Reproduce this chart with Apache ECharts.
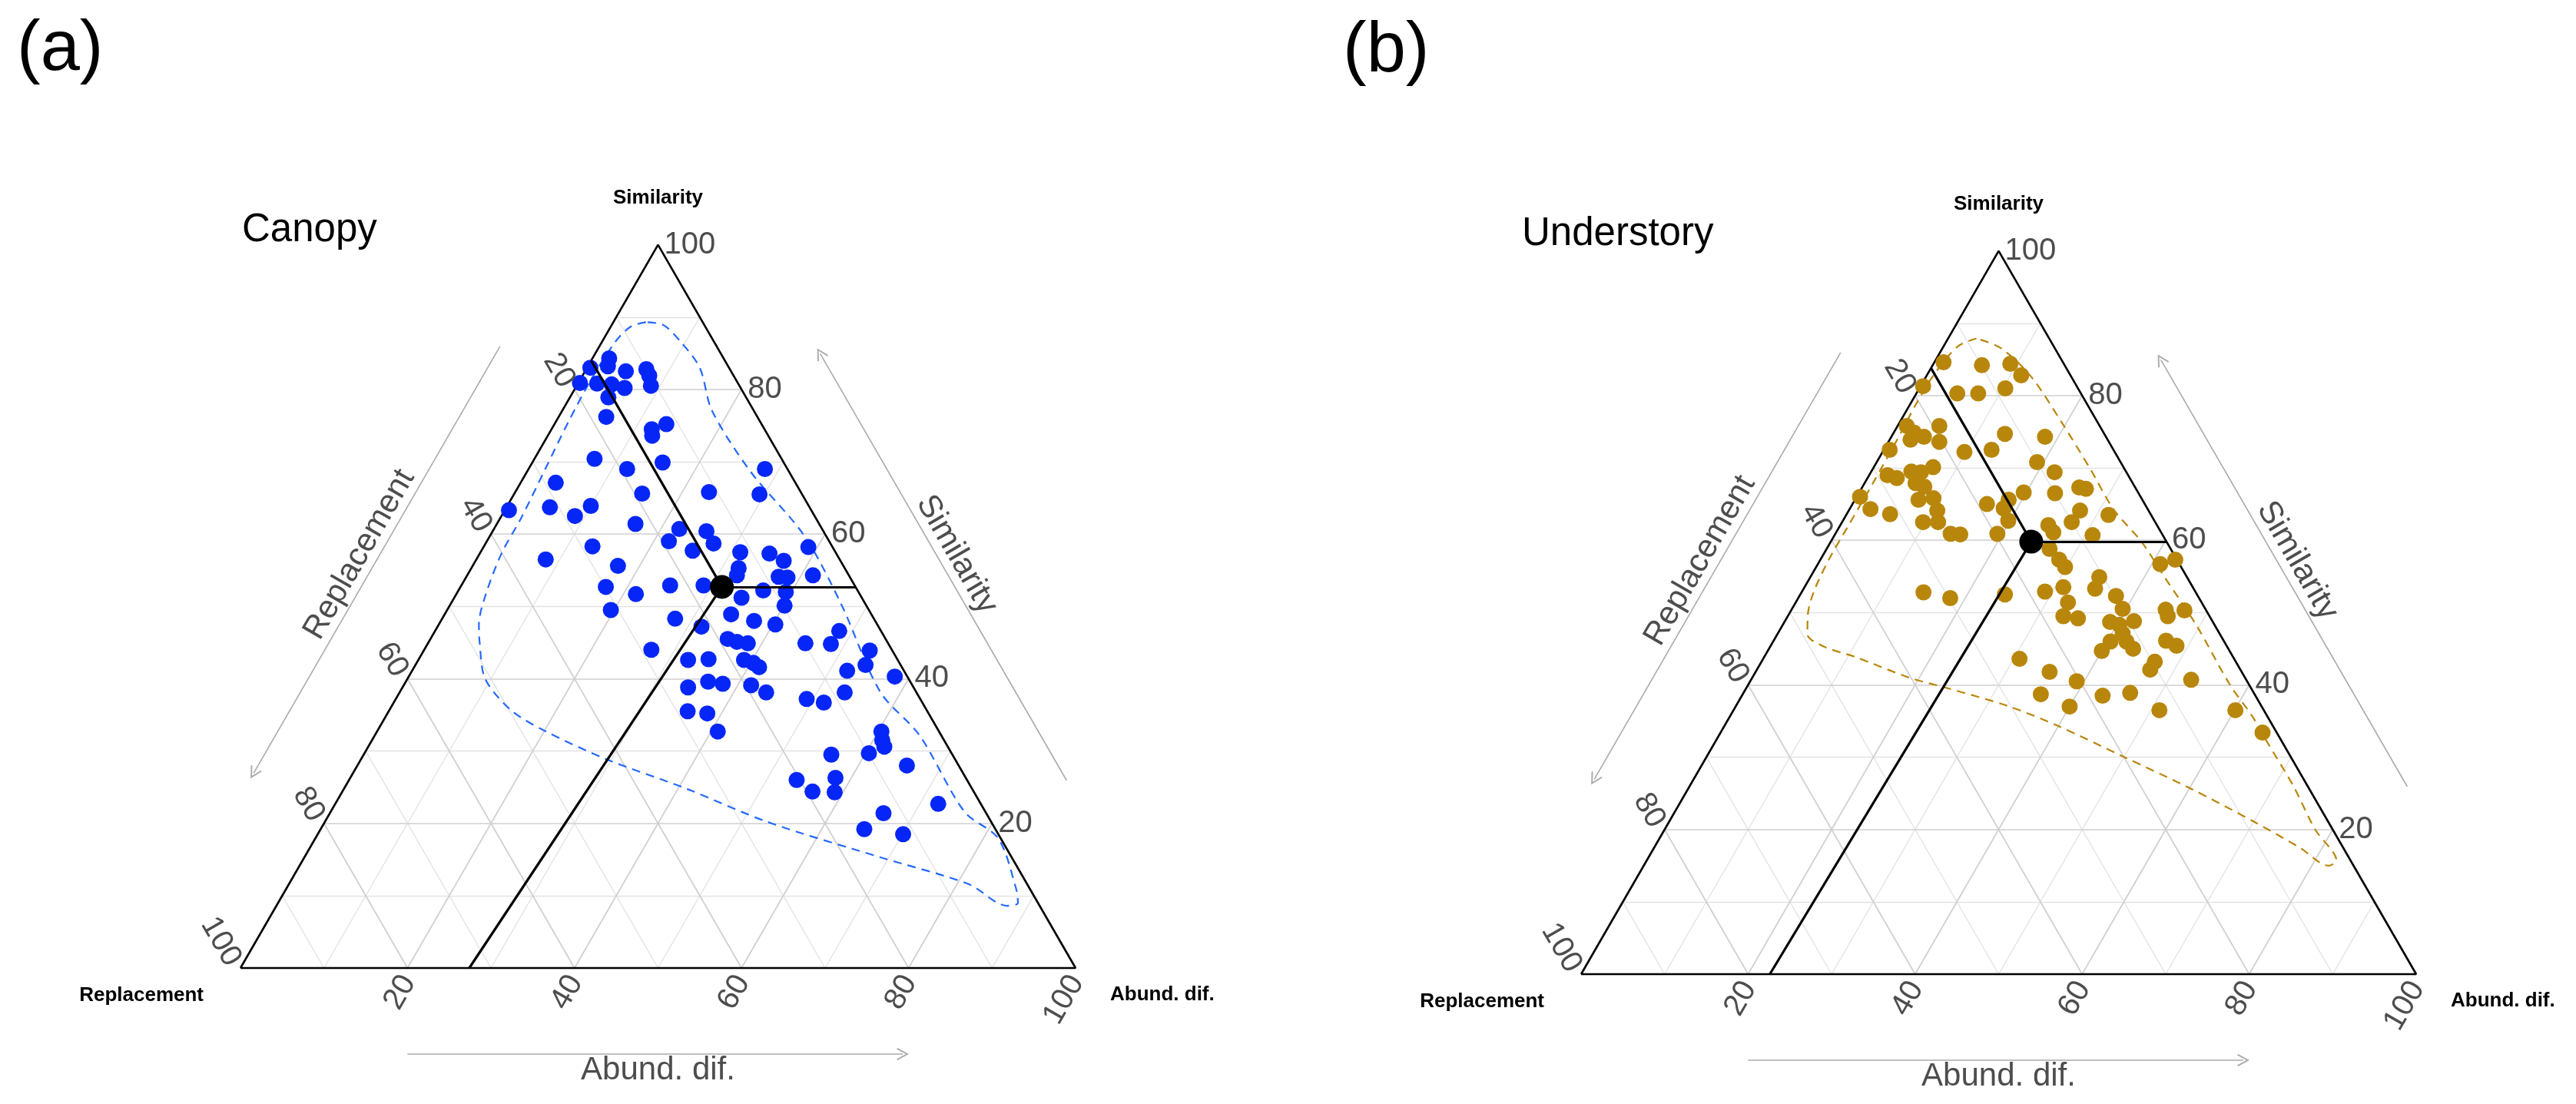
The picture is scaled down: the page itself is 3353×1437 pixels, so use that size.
<!DOCTYPE html>
<html><head><meta charset="utf-8">
<script src="https://cdn.jsdelivr.net/npm/echarts@6/dist/echarts.min.js"></script>
<style>html,body{margin:0;padding:0;background:#fff;}#c{width:3353px;height:1437px;}</style>
</head><body><div id="c"></div>
<script>
// Each sample: [Similarity %, Abund. dif. %]; Replacement % = 100 - Similarity - Abund. dif.
const canopyPoints = [
[84.3,2.0],[83.2,2.4],[83.0,0.4],[82.5,4.9],[82.8,7.2],[81.9,8.0],[80.9,0.2],[80.8,2.3],[80.7,4.1],[80.2,5.9],
[80.5,8.9],[78.9,4.6],[76.2,5.7],[75.2,13.4],[74.5,12.0],[73.6,12.5],[70.4,7.2],[69.0,11.8],[69.9,15.6],[69.0,28.3],
[67.1,4.2],[65.6,15.3],[65.8,23.2],[65.5,29.4],[63.3,0.5],[63.7,5.2],[63.9,10.0],[62.5,8.8],[61.4,16.6],[60.7,22.2],
[60.4,25.6],[59.0,21.8],[57.7,25.3],[58.7,27.3],[58.3,13.0],[56.5,8.3],[55.6,17.4],[57.5,31.1],[57.3,34.7],[56.3,36.9],
[58.2,38.9],[55.3,32.0],[54.3,32.3],[54.1,37.4],[54.0,38.5],[54.3,41.4],[52.7,17.4],[51.7,21.5],[52.9,25.0],[52.9,29.0],
[52.2,36.5],[52.0,39.3],[51.2,34.4],
[50.1,40.1],[49.5,19.6],[48.9,34.3],[48.3,27.9],[48.0,37.5],[47.5,40.3],[47.2,31.6],[46.6,48.4],[45.5,35.6],[45.1,36.9],
[44.9,38.3],[44.9,45.2],[44.8,48.3],[43.9,53.4],[44.0,27.2],[42.6,32.3],[42.7,34.7],[42.6,39.0],[42.2,40.3],[41.6,41.3],
[41.9,53.9],[41.1,52.1],[40.3,58.2],[39.6,36.2],[39.3,38.1],[38.8,34.2],[39.1,41.6],[38.1,43.9],[38.1,53.3],[37.2,49.2],
[36.7,51.5],[35.5,35.8],[35.2,38.3],[32.7,40.8],[32.7,60.4],[31.5,61.1],[30.6,61.8],[29.7,60.4],[29.5,56.0],[28.0,65.8],
[26.0,53.6],[26.3,58.1],[24.4,56.3],[24.3,59.0],[22.7,72.2],[21.4,66.3],[19.2,65.1],[18.5,70.1]
];
const understoryPoints = [
[84.6,1.1],[84.2,5.9],[84.4,9.2],[82.8,11.3],[81.3,0.3],[80.3,4.9],[80.3,7.4],[81.0,10.3],
[75.8,1.1],[74.9,2.4],[74.3,3.9],[73.9,2.5],[75.8,5.0],[73.6,6.1],
[74.7,13.4],[74.3,18.4],[72.5,0.7],[72.2,9.8],[72.5,12.9],[70.8,19.2],[70.1,7.1],[69.0,2.2],[68.6,3.5],[69.5,4.8],
[69.4,6.0],[69.4,22.0],[67.9,6.1],[67.4,7.4],[67.3,26.0],[67.1,26.9],[66.6,19.7],[66.5,23.5],[66.0,0.4],[65.6,7.6],
[65.8,9.3],[65.6,18.4],[65.0,16.1],[64.3,2.5],[63.6,5.2],[64.1,10.6],[64.1,27.7],[63.5,31.4],[64.4,18.4],[62.5,9.7],
[62.5,11.5],[62.7,19.8],[62.5,27.5],[62.1,24.9],[60.9,13.8],[60.8,15.0],[60.9,19.4],[61.1,26.0],[60.7,30.9],
[58.8,26.7],[57.3,28.6],[56.3,29.8],[56.7,41.0],[57.3,42.5],[54.9,34.6],[53.3,34.9],[53.5,31.0],[52.9,29.1],[52.5,24.5],
[52.8,14.6],[52.0,18.2],[52.3,37.9],[51.4,32.6],[50.5,39.6],[50.4,44.8],[50.3,47.1],[49.5,45.5],[49.5,33.0],[49.2,34.9],
[48.7,39.0],[48.8,41.8],[48.3,40.3],[47.1,41.3],[46.0,40.4],[46.0,42.3],[46.1,47.0],[45.4,48.6],[44.7,40.0],[45.0,43.6],
[43.2,47.1],[42.1,47.1],[43.6,30.7],[41.8,35.2],[40.5,39.1],[40.7,52.7],[38.7,35.7],[38.5,43.2],[38.9,46.3],[37.0,40.0],
[36.5,51.0],[36.5,60.1],[33.4,64.9]
];
// mean point [Similarity, Abund. dif.] and Abund. dif. where the lower mean line meets the base
const canopyMean = [52.7, 31.3];
const understoryMean = [59.8, 24.0];
const canopyMeanBase = 27.4;
const understoryMeanBase = 22.6;
// dashed envelope, [Similarity, Abund. dif.]
const canopyContour = [
[89.3,3.9],[88.7,2.4],[86.6,1.6],[81.6,1.3],[75.7,1.5],[69.0,2.0],[62.3,2.5],[57.3,2.6],[51.4,3.6],[47.5,4.8],
[44.9,6.2],[40.0,9.3],[35.7,14.5],[32.9,19.8],[28.9,29.3],[24.8,41.0],[20.2,53.0],[15.3,69.0],[11.6,81.4],[8.6,87.5],
[9.0,88.6],[11.1,87.3],[17.9,81.8],[21.6,75.9],[32.2,65.2],[38.2,57.5],[50.4,46.7],[59.8,37.6],[68.6,26.8],[77.1,17.9],
[83.0,13.5],[86.6,9.4],[88.9,6.2]
];
const understoryContour = [
[87.9,3.4],[86.8,1.7],[82.9,0.8],[78.7,0.7],[73.8,0.9],[68.0,1.0],[62.0,1.0],[57.5,1.0],[53.0,1.4],[49.7,2.3],
[47.0,3.6],[45.3,6.4],[43.9,10.8],[41.0,18.8],[39.6,23.9],[37.1,32.5],[34.3,40.0],[30.2,49.6],[25.6,60.3],[21.0,70.2],
[17.5,77.3],[15.0,82.0],[15.7,82.6],[20.0,77.9],[26.0,72.3],[32.0,66.2],[35.7,62.5],[40.0,57.7],[48.1,49.7],[55.2,42.1],
[59.8,37.2],[64.2,31.7],[69.9,26.0],[76.2,19.5],[82.6,12.6],[86.5,7.1]
];
const gridSteps = [10,20,30,40,50,60,70,80,90];
const tickValues = [20,40,60,80,100];
const vertexNames = ['Similarity','Replacement','Abund. dif.'];
const panelTags = ['(a)','(b)'];
const panelTitles = ['Canopy','Understory'];

const FONT = 'Liberation Sans, Arial, Helvetica, sans-serif';
const SQ = Math.sqrt(3) / 2;
const U = 10.87;          // pixels per ternary unit
const H = 100 * SQ;
const panels = [
  {left: 313, base: 1260, pts: canopyPoints, mean: canopyMean, meanBase: canopyMeanBase, contour: canopyContour,
   color: '#0626f8', contourColor: '#2468ff', tagX: 22, tagY: 66, titleX: 315, titleY: 300},
  {left: 2058, base: 1268, pts: understoryPoints, mean: understoryMean, meanBase: understoryMeanBase, contour: understoryContour,
   color: '#b8860b', contourColor: '#b8860b', tagX: 1748, tagY: 68, titleX: 1981, titleY: 305}
];
function tern(sim, abund) { return [abund + sim / 2, sim * SQ]; }
function shift(p, dx, dy) { return [p[0] + dx / U, p[1] - dy / U]; } // dx,dy in screen px (y down)

const grids = [], xAxes = [], yAxes = [], series = [], graphics = [];
panels.forEach(function (p, i) {
  grids.push({left: p.left, top: p.base - H * U, width: 100 * U, height: H * U, containLabel: false});
  xAxes.push({type: 'value', gridIndex: i, min: 0, max: 100, show: false});
  yAxes.push({type: 'value', gridIndex: i, min: 0, max: H, show: false});
  const ax = {xAxisIndex: i, yAxisIndex: i};

  const major = [], minor = [];
  gridSteps.forEach(function (k) {
    const segs = [
      [tern(k, 0), tern(k, 100 - k)],
      [tern(0, k), tern(100 - k, k)],
      [tern(0, 100 - k), tern(100 - k, 0)]
    ];
    segs.forEach(function (s) { (k % 20 === 0 ? major : minor).push({coords: s}); });
  });
  series.push(Object.assign({type: 'lines', coordinateSystem: 'cartesian2d', silent: true, clip: false, z: 1,
    lineStyle: {color: '#e3e3e3', width: 1.4, opacity: 1}, data: minor}, ax));
  series.push(Object.assign({type: 'lines', coordinateSystem: 'cartesian2d', silent: true, clip: false, z: 1,
    lineStyle: {color: '#cfcfcf', width: 1.7, opacity: 1}, data: major}, ax));

  // triangle frame
  series.push(Object.assign({type: 'line', silent: true, clip: false, z: 3, symbol: 'none', showSymbol: false,
    lineStyle: {color: '#000', width: 2.6}, data: [tern(0, 0), tern(0, 100), tern(100, 0), tern(0, 0)]}, ax));

  // dashed envelope
  const cont = p.contour.map(function (c) { return tern(c[0], c[1]); });
  cont.push(cont[0]);
  series.push(Object.assign({type: 'line', silent: true, clip: false, z: 4, symbol: 'none', showSymbol: false, smooth: 0.3,
    lineStyle: {color: p.contourColor, width: 2.2, type: [11, 8]}, data: cont}, ax));

  // samples
  series.push(Object.assign({type: 'scatter', silent: true, clip: false, z: 5, symbolSize: 21,
    itemStyle: {color: p.color, opacity: 1}, data: p.pts.map(function (c) { return tern(c[0], c[1]); })}, ax));

  // mean lines and mean point
  const m = p.mean, dot = tern(m[0], m[1]);
  series.push(Object.assign({type: 'lines', coordinateSystem: 'cartesian2d', silent: true, clip: false, z: 6,
    lineStyle: {color: '#000', width: 3.2, opacity: 1},
    data: [{coords: [dot, tern(m[0] + m[1], 0)]}, {coords: [dot, tern(m[0], 100 - m[0])]}, {coords: [dot, tern(0, p.meanBase)]}]}, ax));
  series.push(Object.assign({type: 'scatter', silent: true, clip: false, z: 7, symbolSize: 31,
    itemStyle: {color: '#000', opacity: 1}, data: [dot]}, ax));

  // direction arrows
  const off = 112, nL = [-0.866 * off, -0.5 * off], nR = [0.866 * off, -0.5 * off];
  const chevron = 'path://M0,10L5,0L10,10L9.1,10.9L5,2.7L0.9,10.9Z';
  series.push(Object.assign({type: 'lines', coordinateSystem: 'cartesian2d', silent: true, clip: false, z: 2,
    symbol: ['none', chevron], symbolSize: 16,
    lineStyle: {color: '#aaaaaa', width: 1.6, opacity: 1},
    data: [
      {coords: [shift(tern(0, 20), 0, off), shift(tern(0, 79.3), 0, off)]},
      {coords: [shift(tern(80, 0), nL[0], nL[1]), shift(tern(21, 0), nL[0], nL[1])]},
      {coords: [shift(tern(20, 80), nR[0], nR[1]), shift(tern(79, 21), nR[0], nR[1])]}
    ]}, ax));

  // text labels
  const tickStyle = {fontSize: 40, color: '#4d4d4d', fontFamily: FONT, opacity: 1};
  const labels = [];
  function lab(pos, text, style) {
    labels.push({value: pos, label: Object.assign({show: true, position: 'inside', formatter: text}, style)});
  }
  tickValues.forEach(function (v) {
    lab(shift(tern(v, 100 - v), 8, 0), String(v), Object.assign({align: 'left', verticalAlign: 'middle'}, tickStyle));
    lab(shift(tern(100 - v, 0), -9, -5.5), String(v), Object.assign({align: 'right', verticalAlign: 'middle', rotate: -60}, tickStyle));
    lab(shift(tern(0, v), 1.5, 12.5), String(v), Object.assign({align: 'right', verticalAlign: 'middle', rotate: 60}, tickStyle));
  });
  const vStyle = {fontSize: 26, fontWeight: 'bold', color: '#000', fontFamily: FONT, verticalAlign: 'middle', opacity: 1};
  lab(shift(tern(100, 0), 0, -61), vertexNames[0], Object.assign({align: 'center'}, vStyle));
  lab(shift(tern(0, 0), -48, 36), vertexNames[1], Object.assign({align: 'right'}, vStyle));
  lab(shift(tern(0, 100), 45, 35), vertexNames[2], Object.assign({align: 'left'}, vStyle));
  const tStyle = {fontSize: 42, color: '#4d4d4d', fontFamily: FONT, align: 'center', verticalAlign: 'middle', opacity: 1};
  const td = 135;
  lab(shift(tern(50, 0), -0.866 * td, -0.5 * td), vertexNames[1], Object.assign({rotate: 60}, tStyle));
  lab(shift(tern(50, 50), 0.866 * td, -0.5 * td), vertexNames[0], Object.assign({rotate: -60}, tStyle));
  lab(shift(tern(0, 50), 0, 133), vertexNames[2], tStyle);
  series.push(Object.assign({type: 'scatter', silent: true, clip: false, z: 8, symbolSize: 1,
    itemStyle: {color: 'rgba(255,255,255,0)', opacity: 1}, data: labels}, ax));

  graphics.push({type: 'text', left: p.tagX, top: p.tagY - 46, silent: true,
    style: {text: panelTags[i], fontSize: 92, fontFamily: FONT, fill: '#000'}});
  graphics.push({type: 'text', left: p.titleX, top: p.titleY - 26, silent: true,
    style: {text: panelTitles[i], fontSize: 51, fontFamily: FONT, fill: '#000'}});
});

const chart = echarts.init(document.getElementById('c'), null, {renderer: 'canvas'});
chart.setOption({
  animation: false,
  backgroundColor: '#ffffff',
  textStyle: {fontFamily: FONT},
  grid: grids, xAxis: xAxes, yAxis: yAxes,
  series: series,
  graphic: graphics
});
</script></body></html>
